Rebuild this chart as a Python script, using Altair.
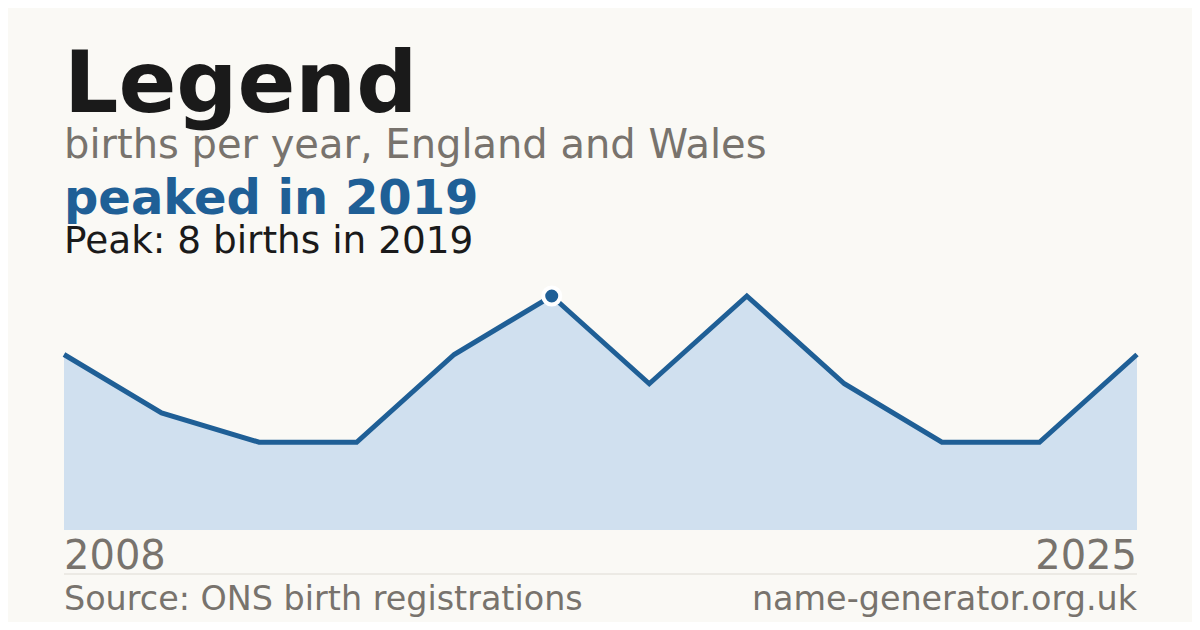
import altair as alt
import pandas as pd

# data
idx = list(range(12))
births = [6, 4, 3, 3, 6, 8, 5, 8, 5, 3, 3, 6]
peak_index = [5]
peak_value = [8]
first_year = "2008"
last_year = "2025"

df = pd.DataFrame({"i": idx, "v": births})
peak_df = pd.DataFrame({"i": peak_index, "v": peak_value})

BG = "#faf9f5"
BLUE = "#1f5f96"
FILL = "#d0e0ef"
GREY = "#78736d"
DARK = "#1a1a1a"

W, H = 1184, 614
xs = alt.Scale(domain=[0, 11], range=[56, 1129], nice=False, zero=False)
ys = alt.Scale(domain=[0, 8], range=[522, 288], nice=False, zero=True)

x = alt.X("i:Q", scale=xs, axis=None)
y = alt.Y("v:Q", scale=ys, axis=None)

area = alt.Chart(df).mark_area(color=FILL, opacity=1).encode(x=x, y=y)
line = alt.Chart(df).mark_line(color=BLUE, strokeWidth=5, strokeJoin="miter").encode(x=x, y=y)
dot = alt.Chart(peak_df).mark_circle(color=BLUE, size=290, stroke="white",
                                     strokeWidth=4, opacity=1).encode(x=x, y=y)

def txt(text, px, py, size, color, weight="normal", align="left"):
    return alt.Chart(pd.DataFrame({"t": [text]})).mark_text(
        font="DejaVu Sans", fontSize=size, color=color, fontWeight=weight,
        align=align, baseline="alphabetic"
    ).encode(x=alt.value(px), y=alt.value(py), text="t:N")

texts = [
    txt("Legend", 56, 104, 85.4, DARK, "bold"),
    txt("births per year, England and Wales", 56, 150, 40, GREY),
    txt("peaked in 2019", 56, 206, 48, BLUE, "bold"),
    txt("Peak: 8 births in 2019", 56, 245, 37.4, DARK),
    txt(first_year, 56, 561, 40, GREY),
    txt(last_year, 1129, 561, 40, GREY, align="right"),
    txt("Source: ONS birth registrations", 56, 602, 33.4, GREY),
    txt("name-generator.org.uk", 1129, 602, 33.4, GREY, align="right"),
]

rule = alt.Chart(pd.DataFrame({"a": [0]})).mark_rule(color="#dedbd4", strokeWidth=1).encode(
    x=alt.value(56), x2=alt.value(1129), y=alt.value(566))

chart = alt.layer(area, line, dot, rule, *texts).properties(
    width=W, height=H, autosize=alt.AutoSizeParams(type="none"), padding=0,
    background=BG
).configure_view(stroke=None)

chart.save("out.html", embed_options={"renderer": "svg", "actions": False})
